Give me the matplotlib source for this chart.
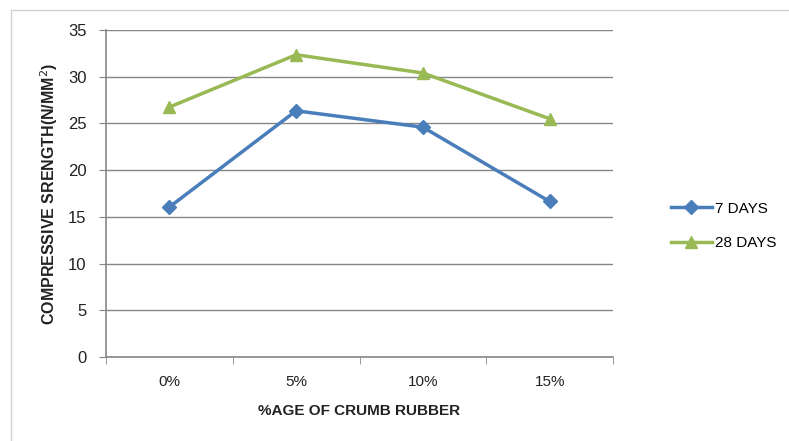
import matplotlib
matplotlib.use("Agg")
import matplotlib.pyplot as plt
from matplotlib.patches import Rectangle

categories = ["0%", "5%", "10%", "15%"]
days7 = [16.05, 26.35, 24.6, 16.65]
days28 = [26.75, 32.35, 30.4, 25.5]
yticks = [0, 5, 10, 15, 20, 25, 30, 35]

plt.rcParams['font.family'] = ['Liberation Sans', 'DejaVu Sans']

W, H = 789, 441
fig = plt.figure(figsize=(W/100, H/100), dpi=100)
fig.patches.append(Rectangle((11/W, -0.1), 1.1, 1 - 10/H + 0.1, transform=fig.transFigure,
                             fill=False, edgecolor='#d0d0d0', lw=1))

ax = fig.add_axes([106/W, 1 - 357/H, (613-106)/W, (357-30)/H])
x = list(range(len(categories)))
gray = '#868686'
ax.plot(x, days7, color='#4a7ebb', lw=2.5, marker='D', ms=7, label='7 DAYS')
ax.plot(x, days28, color='#98b954', lw=2.5, marker='^', ms=9, label='28 DAYS')

ax.set_xlim(-0.5, 3.5)
ax.set_ylim(0, 35)
ax.set_yticks(yticks)
ax.set_xticks(x)
ax.set_xticklabels(categories)
ax.set_xticks([-0.5, 0.5, 1.5, 2.5, 3.5], minor=True)
ax.tick_params(axis='x', which='major', length=0, pad=13, labelsize=11, colors='#222222')
ax.tick_params(axis='x', which='minor', length=5, color=gray)
ax.tick_params(axis='y', length=5, color=gray, labelsize=12, colors='#222222', pad=9)
ax.grid(axis='y', color=gray, lw=1)
ax.set_axisbelow(True)
for s in ['top', 'right']:
    ax.spines[s].set_visible(False)
for s in ['left', 'bottom']:
    ax.spines[s].set_color(gray)
    ax.spines[s].set_linewidth(1.2)

ax.set_xlabel('%AGE OF CRUMB RUBBER', fontsize=11, fontweight='bold', color='#222222', labelpad=11)
ax.set_ylabel('COMPRESSIVE SRENGTH(N/MM$^2$)', fontsize=11.5, fontweight='bold', color='#222222')
ax.yaxis.set_label_coords((60 - 106) / (613 - 106), 0.5)

fig.legend(loc='center left', bbox_to_anchor=(657/W, 1 - 226/H), frameon=False,
           fontsize=11, handlelength=2.7, handletextpad=0.2, labelspacing=1.35)

fig.savefig('out.png', dpi=100)
